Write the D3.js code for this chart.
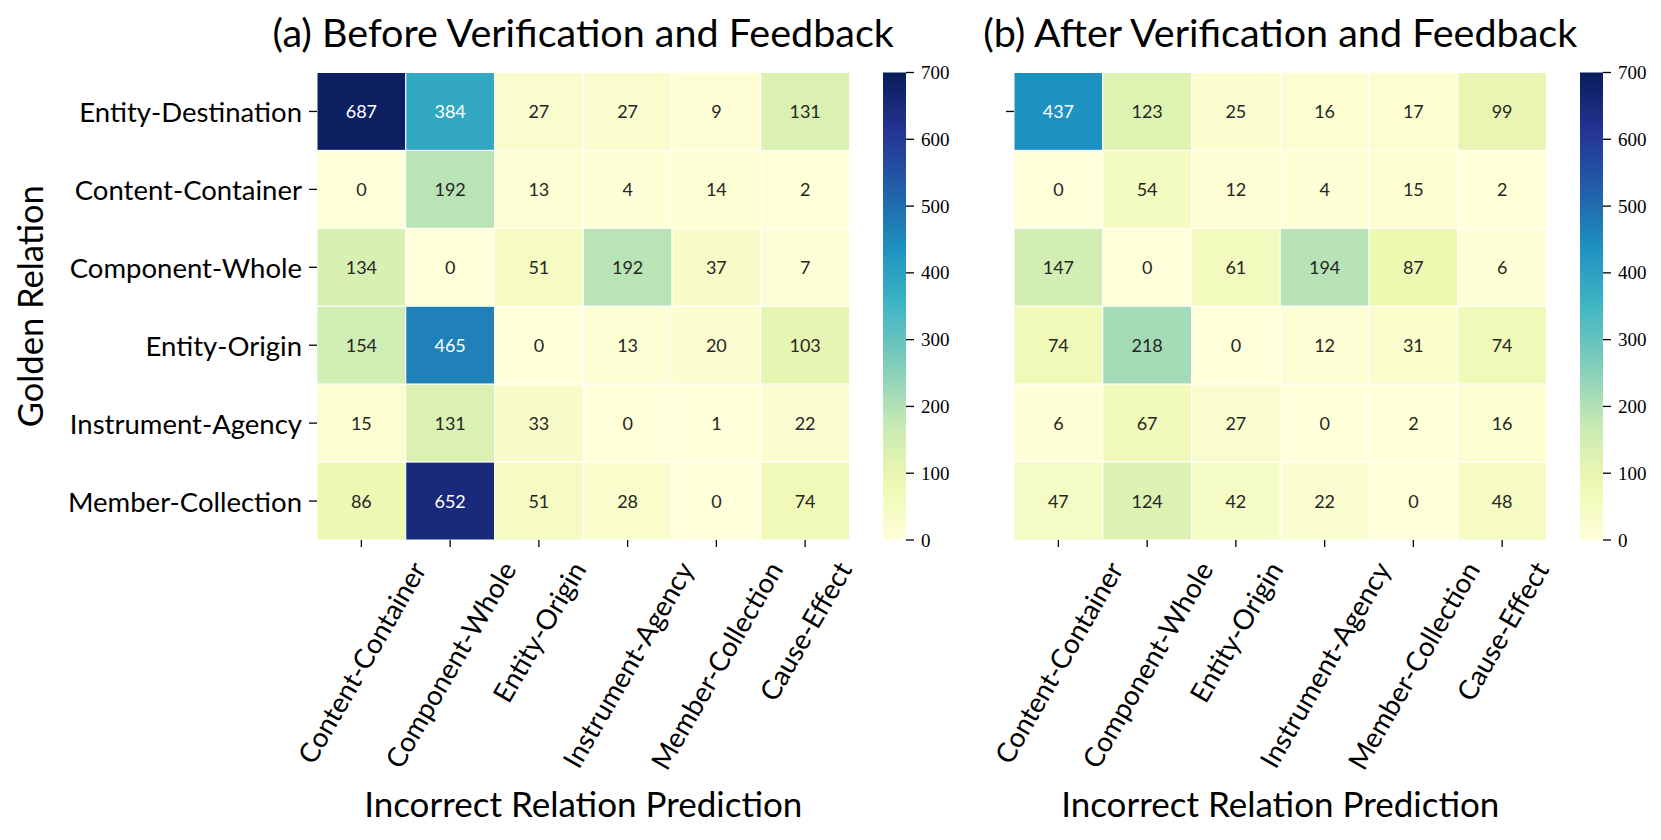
<!DOCTYPE html>
<html>
<head>
<meta charset="utf-8">
<script src="https://cdn.jsdelivr.net/npm/d3@7"></script>
<style>
        body { margin: 0; background: #fff; }
        text { font-family: Lato, "Open Sans", sans-serif; fill: #000; }
</style>
</head>
<body>
<div id="chart"></div>
<script>
"use strict";

// golden relations (rows) and wrongly predicted relations (columns)
var goldenRelations = ["Entity-Destination", "Content-Container", "Component-Whole",
        "Entity-Origin", "Instrument-Agency", "Member-Collection"];
var predictedRelations = ["Content-Container", "Component-Whole", "Entity-Origin",
        "Instrument-Agency", "Member-Collection", "Cause-Effect"];

var beforeCounts = [
        [687, 384, 27, 27, 9, 131],
        [0, 192, 13, 4, 14, 2],
        [134, 0, 51, 192, 37, 7],
        [154, 465, 0, 13, 20, 103],
        [15, 131, 33, 0, 1, 22],
        [86, 652, 51, 28, 0, 74]
];
var afterCounts = [
        [437, 123, 25, 16, 17, 99],
        [0, 54, 12, 4, 15, 2],
        [147, 0, 61, 194, 87, 6],
        [74, 218, 0, 12, 31, 74],
        [6, 67, 27, 0, 2, 16],
        [47, 124, 42, 22, 0, 48]
];
var colorbarTicks = [0, 100, 200, 300, 400, 500, 600, 700];
var panelTitles = ["(a) Before Verification and Feedback", "(b) After Verification and Feedback"];

// matplotlib YlGnBu: 9 brewer colours linearly interpolated
var ylgnbu = ["#ffffd9", "#edf8b1", "#c7e9b4", "#7fcdbb", "#41b6c4",
        "#1d91c0", "#225ea8", "#253494", "#081d58"];
var vmin = 0, vmax = 700;
var color = d3.scaleLinear()
        .domain(d3.range(ylgnbu.length).map(function (i) { return vmin + i * (vmax - vmin) / (ylgnbu.length - 1); }))
        .range(ylgnbu)
        .clamp(true);

var svgWidth = 1661, svgHeight = 840;
var mapTop = 72.5, mapBottom = 540;
var mapWidth = 532.5;

var svg = d3.select("#chart")
        .append("svg")
        .attr("width", svgWidth)
        .attr("height", svgHeight);

function textColor(v) {
        // same rule seaborn uses to pick annotation colour
        var c = d3.rgb(color(v));
        var ch = [c.r, c.g, c.b].map(function (x) {
                x = x / 255;
                return x <= 0.03928 ? x / 12.92 : Math.pow((x + 0.055) / 1.055, 2.4);
        });
        var lum = 0.2126 * ch[0] + 0.7152 * ch[1] + 0.0722 * ch[2];
        return lum > 0.408 ? "#262626" : "#ffffff";
}

function drawPanel(counts, left, cbLeft, slot) {
        var g = svg.append("g");

        var x = d3.scaleBand()
                .domain(predictedRelations)
                .range([left, left + mapWidth]);
        var y = d3.scaleBand()
                .domain(goldenRelations)
                .range([mapTop, mapBottom]);

        var cells = [];
        counts.forEach(function (row, i) {
                row.forEach(function (v, j) {
                        cells.push({ row: goldenRelations[i], col: predictedRelations[j], value: v });
                });
        });

        // cells
        g.selectAll("rect.cell")
                .data(cells)
                .enter()
                .append("rect")
                .attr("class", "cell")
                .attr("x", function (d) { return x(d.col); })
                .attr("y", function (d) { return y(d.row); })
                .attr("width", x.bandwidth())
                .attr("height", y.bandwidth())
                .attr("fill", function (d) { return color(d.value); })
                .attr("stroke", "#ffffff")
                .attr("stroke-width", 1);

        // annotations
        g.selectAll("text.annot")
                .data(cells)
                .enter()
                .append("text")
                .attr("class", "annot")
                .attr("x", function (d) { return x(d.col) + x.bandwidth() / 2; })
                .attr("y", function (d) { return y(d.row) + y.bandwidth() / 2; })
                .attr("text-anchor", "middle")
                .attr("dominant-baseline", "central")
                .style("font-size", "18px")
                .style("fill", function (d) { return textColor(d.value); })
                .text(function (d) { return d.value; });

        // x ticks
        g.selectAll("line.xtick")
                .data(predictedRelations)
                .enter()
                .append("line")
                .attr("x1", function (d) { return x(d) + x.bandwidth() / 2; })
                .attr("x2", function (d) { return x(d) + x.bandwidth() / 2; })
                .attr("y1", mapBottom)
                .attr("y2", mapBottom + 7)
                .attr("stroke", "#000")
                .attr("stroke-width", 1.3);

        // rotated x tick labels, bounding box centred under the tick
        g.selectAll("text.xlab")
                .data(predictedRelations)
                .enter()
                .append("text")
                .attr("class", "xlab")
                .attr("text-anchor", "middle")
                .attr("dominant-baseline", "central")
                .style("font-size", "27.5px")
                .text(function (d) { return d; })
                .attr("transform", function (d) {
                        var L = this.getComputedTextLength();
                        var h = 24;
                        var boxH = L * Math.sin(Math.PI / 3) + h * Math.cos(Math.PI / 3);
                        return "translate(" + (x(d) + x.bandwidth() / 2) + "," + (558 + boxH / 2) + ")rotate(-60)";
                });

        // y ticks (panel b only keeps the first one)
        var yTicks = slot == 1 ? goldenRelations : goldenRelations.slice(0, 1);
        g.selectAll("line.ytick")
                .data(yTicks)
                .enter()
                .append("line")
                .attr("x1", left - 8)
                .attr("x2", left)
                .attr("y1", function (d) { return y(d) + y.bandwidth() / 2; })
                .attr("y2", function (d) { return y(d) + y.bandwidth() / 2; })
                .attr("stroke", "#000")
                .attr("stroke-width", 1.3);

        if (slot == 1) {
                g.selectAll("text.ylab")
                        .data(goldenRelations)
                        .enter()
                        .append("text")
                        .attr("x", left - 15)
                        .attr("y", function (d) { return y(d) + y.bandwidth() / 2; })
                        .attr("text-anchor", "end")
                        .attr("dominant-baseline", "central")
                        .style("font-size", "27.5px")
                        .text(function (d) { return d; });

                svg.append("text")
                        .attr("transform", "translate(43," + ((mapTop + mapBottom) / 2) + ")rotate(-90)")
                        .attr("text-anchor", "middle")
                        .style("font-size", "34.5px")
                        .text("Golden Relation");
        }

        // title and x label
        g.append("text")
                .attr("x", left + mapWidth / 2)
                .attr("y", 47)
                .attr("text-anchor", "middle")
                .style("font-size", "39.5px")
                .text(panelTitles[slot - 1]);

        g.append("text")
                .attr("x", left + mapWidth / 2)
                .attr("y", 817)
                .attr("text-anchor", "middle")
                .style("font-size", "35px")
                .text("Incorrect Relation Prediction");

        // colorbar
        var cbWidth = 23;
        var cy = d3.scaleLinear().domain([vmin, vmax]).range([mapBottom, mapTop]);
        var gradId = "cbgrad" + slot;
        var grad = svg.append("defs")
                .append("linearGradient")
                .attr("id", gradId)
                .attr("x1", "0").attr("y1", "1")
                .attr("x2", "0").attr("y2", "0");
        grad.selectAll("stop")
                .data(d3.range(0, 1.0001, 0.02))
                .enter()
                .append("stop")
                .attr("offset", function (t) { return t; })
                .attr("stop-color", function (t) { return color(vmin + t * (vmax - vmin)); });

        g.append("rect")
                .attr("x", cbLeft)
                .attr("y", mapTop)
                .attr("width", cbWidth)
                .attr("height", mapBottom - mapTop)
                .attr("fill", "url(#" + gradId + ")");

        g.selectAll("line.cbtick")
                .data(colorbarTicks)
                .enter()
                .append("line")
                .attr("x1", cbLeft + cbWidth)
                .attr("x2", cbLeft + cbWidth + 8)
                .attr("y1", function (d) { return cy(d); })
                .attr("y2", function (d) { return cy(d); })
                .attr("stroke", "#000")
                .attr("stroke-width", 1.3);

        g.selectAll("text.cblab")
                .data(colorbarTicks)
                .enter()
                .append("text")
                .attr("x", cbLeft + cbWidth + 15)
                .attr("y", function (d) { return cy(d); })
                .attr("dominant-baseline", "central")
                .style("font-family", "'Liberation Serif', 'DejaVu Serif', serif")
                .style("font-size", "19px")
                .text(function (d) { return d; });
}

drawPanel(beforeCounts, 317, 883, 1);
drawPanel(afterCounts, 1014, 1580, 2);
</script>
</body>
</html>
